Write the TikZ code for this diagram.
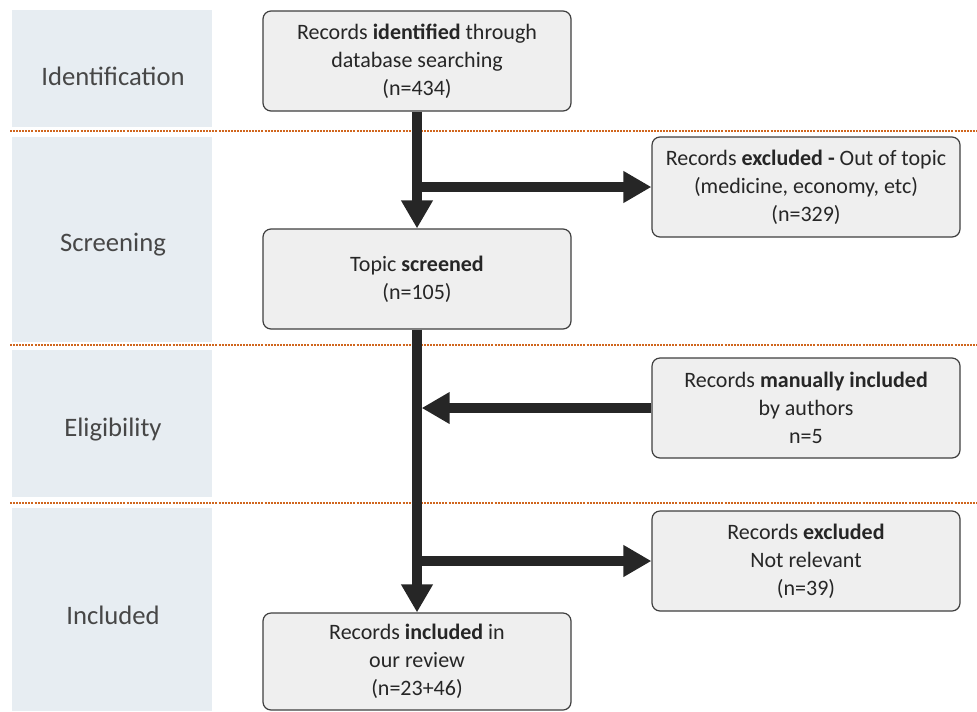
\documentclass[tikz,border=0pt]{standalone}
\usepackage{fontspec}
\setmainfont{Carlito}
\usepackage{tikz}
\usetikzlibrary{arrows.meta,calc,positioning}
\definecolor{bandfill}{HTML}{E7EDF2}
\definecolor{boxfill}{HTML}{EFEFEF}
\definecolor{boxline}{HTML}{3F3F3F}
\definecolor{ink}{HTML}{262626}
\definecolor{sepcol}{HTML}{D0661E}
\tikzset{
	prisma/.style={x=0.75pt, y=-0.75pt},
	band/.style={fill=bandfill, draw=none},
	stage/.style={text=ink!85, font=\fontsize{20}{24}\selectfont},
	rec/.style={draw=boxline, fill=boxfill, rounded corners=6pt, line width=0.9pt,
		minimum width=231pt, minimum height=75pt, align=center, text=ink,
		font=\fontsize{16.5}{21}\selectfont, inner sep=0pt},
	ar/.style={draw=ink, line width=7pt, -{Triangle[length=21pt,width=22.5pt]}},
	sep/.style={draw=sepcol, line width=0.8pt, dash pattern=on 1.5pt off 0.8pt}
}

\begin{document}
\begin{tikzpicture}[prisma]
	\useasboundingbox (0,0) rectangle (977,711);
	% stage bands on the left
	\fill[band] (12,10) rectangle (212,127);
	\fill[band] (12,137) rectangle (212,342);
	\fill[band] (12,350) rectangle (212,497);
	\fill[band] (12,508) rectangle (212,711);
	\node[stage] (identification) at (113,76) {Identification};
	\node[stage] (screening) at (113,245) {Screening};
	\node[stage] (eligibility) at (113,430) {Eligibility};
	\node[stage] (included) at (113,615) {Included};
	\foreach \y in {131,345,503}
		\draw[sep] (10,\y) -- (977,\y);
	% main column
	\node[rec] (found) at (417,61) {Records \textbf{identified} through\\database searching\\(n=434)};
	\node[rec] (screened) at (417,279) {Topic \textbf{screened}\\(n=105)};
	\node[rec, minimum height=72.75pt] (kept) at (417,661.5) {Records \textbf{included} in\\our review\\(n=23+46)};
	% side boxes
	\node[rec] (offtopic) at (806,187) {Records \textbf{excluded -} Out of topic\\(medicine, economy, etc)\\(n=329)};
	\node[rec] (manual) at (806,408) {Records \textbf{manually included}\\by authors\\n=5};
	\node[rec] (irrelevant) at (806,561) {Records \textbf{excluded}\\Not relevant\\(n=39)};
	\coordinate (fork1) at (found.south |- offtopic.west);
	\coordinate (join) at (screened.south |- manual.west);
	\coordinate (fork2) at (screened.south |- irrelevant.west);
	\draw[ar] (found) -- (screened);
	\draw[ar] (fork1) -- (offtopic);
	\draw[ar] (screened) -- (kept);
	\draw[ar, shorten >=3.5pt] (manual) -- (join); %into the spine
	\draw[ar] (fork2) -- (irrelevant);
\end{tikzpicture}
\end{document}
